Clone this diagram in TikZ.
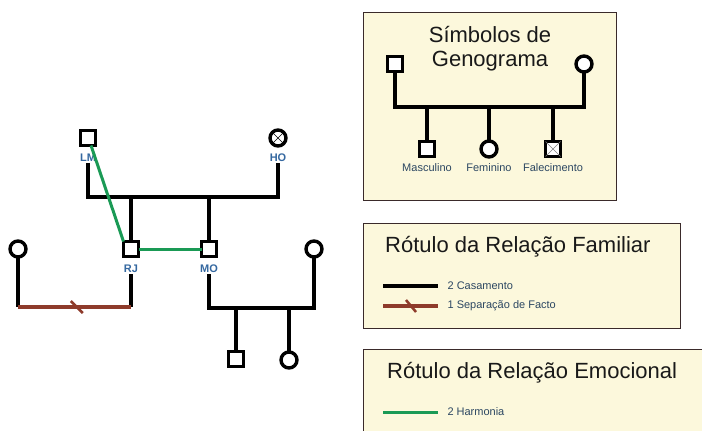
\documentclass[tikz,border=0pt]{standalone}
\usepackage{fontspec}
\setmainfont{Liberation Sans}
\definecolor{cream}{HTML}{FCF8DC}
\definecolor{frame}{HTML}{3A2A2A}
\definecolor{sepbrown}{HTML}{8E3B2B}
\definecolor{harmgreen}{HTML}{1A9A55}
\definecolor{namecol}{HTML}{3568A0}
\definecolor{legcol}{HTML}{2C4762}
\tikzset{
  male/.style={draw, rectangle, line width=3.4pt, minimum size=15pt, inner sep=0pt, outer sep=0pt, fill=white},
  female/.style={draw, circle, line width=3.4pt, minimum size=16pt, inner sep=0pt, outer sep=0pt, fill=white},
  person/.style={font=\fontsize{11}{11}\selectfont\bfseries, text=namecol, inner sep=1pt},
  legtext/.style={font=\fontsize{11}{11}\selectfont, text=legcol, anchor=west, inner sep=0pt},
  title/.style={font=\fontsize{22}{24}\selectfont, text=black!90, inner sep=0pt},
  marriage/.style={line width=3.2pt, black},
  separation/.style={line width=3.2pt, sepbrown},
  harmony/.style={line width=3pt, harmgreen},
  panel/.style={draw=frame, fill=cream, line width=1pt}
}
\begin{document}
\begin{tikzpicture}[x=1pt,y=-1pt]
    \useasboundingbox (0,0) rectangle (702,431);

    % legend panels
    \draw[panel] (363,12) rectangle (616,200);
    \draw[panel] (363,223) rectangle (680,328);
    \draw[panel] (363,349) rectangle (712,445);

    % genogram symbols
    \node[title, align=center] (symtitle) at (490,49) {Símbolos de\\Genograma};
    \node[male] (sf) at (395,64) {};
    \node[female] (sm) at (584,64) {};
    \node[male] (masc) at (427,149) {};
    \node[female] (fem) at (489,149) {};
    \node[male] (falec) at (553,149) {};
    \draw[gray, thin] (falec.north west) -- (falec.south east) (falec.north east) -- (falec.south west);
    \node[legtext, anchor=north] (masclab) at (427,163) {Masculino};
    \node[legtext, anchor=north] (femlab) at (489,163) {Feminino};
    \node[legtext, anchor=north] (faleclab) at (553,163) {Falecimento};
    \coordinate (sbar) at (0,107);
    \draw[marriage] (sf.south) -- (sf.south |- sbar) -- (sm.south |- sbar) -- (sm.south);
    \foreach \k in {masc,fem,falec}
        \draw[marriage] (\k.north |- sbar) -- (\k.north);

    % family relation legend
    \node[title, anchor=west] (famtitle) at (385,247) {Rótulo da Relação Familiar};
    \coordinate (cas1) at (383,286);
    \coordinate (cas2) at (438,286);
    \coordinate (sep1) at (383,306);
    \coordinate (sep2) at (438,306);
    \draw[marriage] (cas1) -- (cas2) node[legtext, right=8pt] (caslab) {2 Casamento};
    \draw[separation] (sep1) -- (sep2) node[legtext, right=8pt] (seplab) {1 Separação de Facto};
    \draw[sepbrown, line width=2.5pt] (411,306) ++(-5,-6) -- ++(10,12);

    % emotional relation legend
    \node[title, anchor=west] (emotitle) at (387,373) {Rótulo da Relação Emocional};
    \coordinate (har1) at (383,412);
    \coordinate (har2) at (438,412);
    \draw[harmony] (har1) -- (har2) node[legtext, right=8pt] (harlab) {2 Harmonia};

    % persons
    \node[male] (lm) at (88,138) {};
    \node[female] (ho) at (278,138) {};
    \draw[thin] (ho.north east) -- (ho.south west) (ho.north west) -- (ho.south east);
    \node[male] (rj) at (131,249) {};
    \node[male] (mo) at (209,249) {};
    \node[female] (lf) at (18,249) {};
    \node[female] (rf) at (314,249) {};
    \node[male] (son) at (236,359) {};
    \node[female] (dau) at (289,360) {};
    \node[person] (lmlab) at (88,158) {LM};
    \node[person] (holab) at (278,158) {HO};
    \node[person] (rjlab) at (131,269) {RJ};
    \node[person] (molab) at (209,269) {MO};

    % parents of RJ and MO
    \coordinate (pbar) at (0,197);
    \draw[marriage] (lmlab.south) -- (lmlab.south |- pbar) -- (holab.south |- pbar) -- (holab.south);
    \draw[marriage] (rj.north |- pbar) -- (rj.north);
    \draw[marriage] (mo.north |- pbar) -- (mo.north);

    % RJ separated
    \coordinate (lbar) at (0,307);
    \draw[marriage] (lf.south) -- (lf.south |- lbar);
    \draw[marriage] (rjlab.south) -- (rjlab.south |- lbar);
    \draw[separation] (lf.south |- lbar) -- (rjlab.south |- lbar) coordinate[pos=0.52] (cut);
    \draw[sepbrown, line width=2.5pt] (cut) ++(-6,-6) -- ++(12,12);

    % MO married, two children
    \coordinate (rbar) at (0,308);
    \draw[marriage] (molab.south) -- (molab.south |- rbar) -- (rf.south |- rbar) -- (rf.south);
    \draw[marriage] (son.north |- rbar) -- (son.north);
    \draw[marriage] (dau.north |- rbar) -- (dau.north);

    % harmony
    \draw[harmony] ([xshift=3pt]lm.south) -- (rj.north west);
    \draw[harmony] (rj.east) -- (mo.west);
\end{tikzpicture}
\end{document}
